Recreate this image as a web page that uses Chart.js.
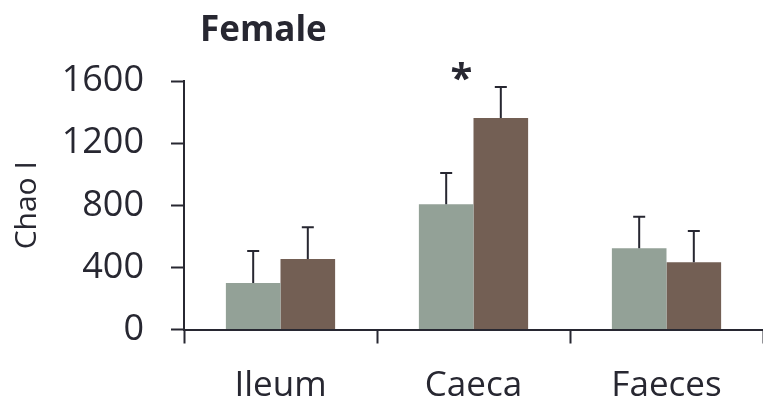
<!DOCTYPE html>
<html>
<head>
<meta charset="utf-8">
<script src="https://cdn.jsdelivr.net/npm/chart.js@4/dist/chart.umd.min.js"></script>
<style>
  html, body { margin: 0; padding: 0; background: #fff; }
  #wrap { width: 763px; height: 402px; }
</style>
</head>
<body>
<div id="wrap"><canvas id="c" width="763" height="402"></canvas></div>
<script>
const categories = ['Ileum', 'Caeca', 'Faeces'];
const groupA = [300, 806, 523];
const groupAErr = [205, 202, 203];
const groupB = [454, 1362, 433];
const groupBErr = [204, 199, 201];
const yTicks = [0, 400, 800, 1200, 1600];
const significance = [null, '*', null];

const INK = '#272731';
const FONT = '"Open Sans", Lato, sans-serif';

// upward-only error bars with caps, drawn from the dataset error arrays
const errorBars = {
  id: 'errorBars',
  afterDatasetsDraw(chart) {
    const ctx = chart.ctx;
    const y = chart.scales.y;
    const errs = [groupAErr, groupBErr];
    ctx.save();
    ctx.strokeStyle = INK;
    ctx.lineWidth = 2;
    chart.data.datasets.forEach((ds, di) => {
      const meta = chart.getDatasetMeta(di);
      meta.data.forEach((bar, i) => {
        const top = y.getPixelForValue(ds.data[i]);
        const end = y.getPixelForValue(ds.data[i] + errs[di][i]);
        ctx.beginPath();
        ctx.moveTo(bar.x, top);
        ctx.lineTo(bar.x, end);
        ctx.moveTo(bar.x - 6, end);
        ctx.lineTo(bar.x + 6, end);
        ctx.stroke();
      });
    });
    ctx.restore();
  }
};

// significance mark over a category and the panel heading
const extras = {
  id: 'extras',
  afterDraw(chart) {
    const ctx = chart.ctx;
    const x = chart.scales.x, y = chart.scales.y;
    ctx.save();
    ctx.fillStyle = INK;
    ctx.textAlign = 'center';
    ctx.textBaseline = 'middle';
    ctx.font = 'bold 40px ' + FONT;
    significance.forEach((s, i) => {
      if (!s) return;
      const top = Math.max(groupA[i] + groupAErr[i], groupB[i] + groupBErr[i]);
      ctx.fillText(s, x.getPixelForValue(i) - 12, y.getPixelForValue(top) - 6);
    });
    ctx.font = 'bold 35px ' + FONT;
    ctx.textAlign = 'left';
    ctx.fillText('Female', chart.chartArea.left + 16, 31);
    ctx.restore();
  }
};

new Chart(document.getElementById('c'), {
  type: 'bar',
  data: {
    labels: categories,
    datasets: [
      { label: 'A', data: groupA, backgroundColor: '#93a197', borderWidth: 0 },
      { label: 'B', data: groupB, backgroundColor: '#735f54', borderWidth: 0 }
    ]
  },
  options: {
    responsive: false,
    animation: false,
    devicePixelRatio: 1,
    layout: { padding: { top: 81, right: 0, bottom: 0, left: 0 } },
    categoryPercentage: 0.566,
    barPercentage: 1.0,
    plugins: { legend: { display: false }, tooltip: { enabled: false } },
    scales: {
      x: {
        afterFit(s) { s.height = 72.5; },
        grid: { drawOnChartArea: false, drawTicks: true, tickLength: 14, tickColor: INK, tickWidth: 2, offset: true },
        border: { color: INK, width: 2 },
        ticks: { color: INK, font: { family: FONT, size: 35 }, padding: 22 }
      },
      y: {
        min: 0, max: 1600,
        afterFit(s) { s.width = 184; },
        afterBuildTicks(s) { s.ticks = yTicks.map(v => ({ value: v })); },
        grid: { drawOnChartArea: false, drawTicks: true, tickLength: 13, tickColor: INK, tickWidth: 2 },
        border: { color: INK, width: 2 },
        ticks: { color: INK, font: { family: FONT, size: 36 }, padding: 27, callback: v => String(v) },
        title: { display: true, text: 'Chao I', color: INK, font: { family: FONT, size: 30 }, padding: { top: 9, bottom: 0 } }
      }
    }
  },
  plugins: [errorBars, extras]
});
</script>
</body>
</html>
